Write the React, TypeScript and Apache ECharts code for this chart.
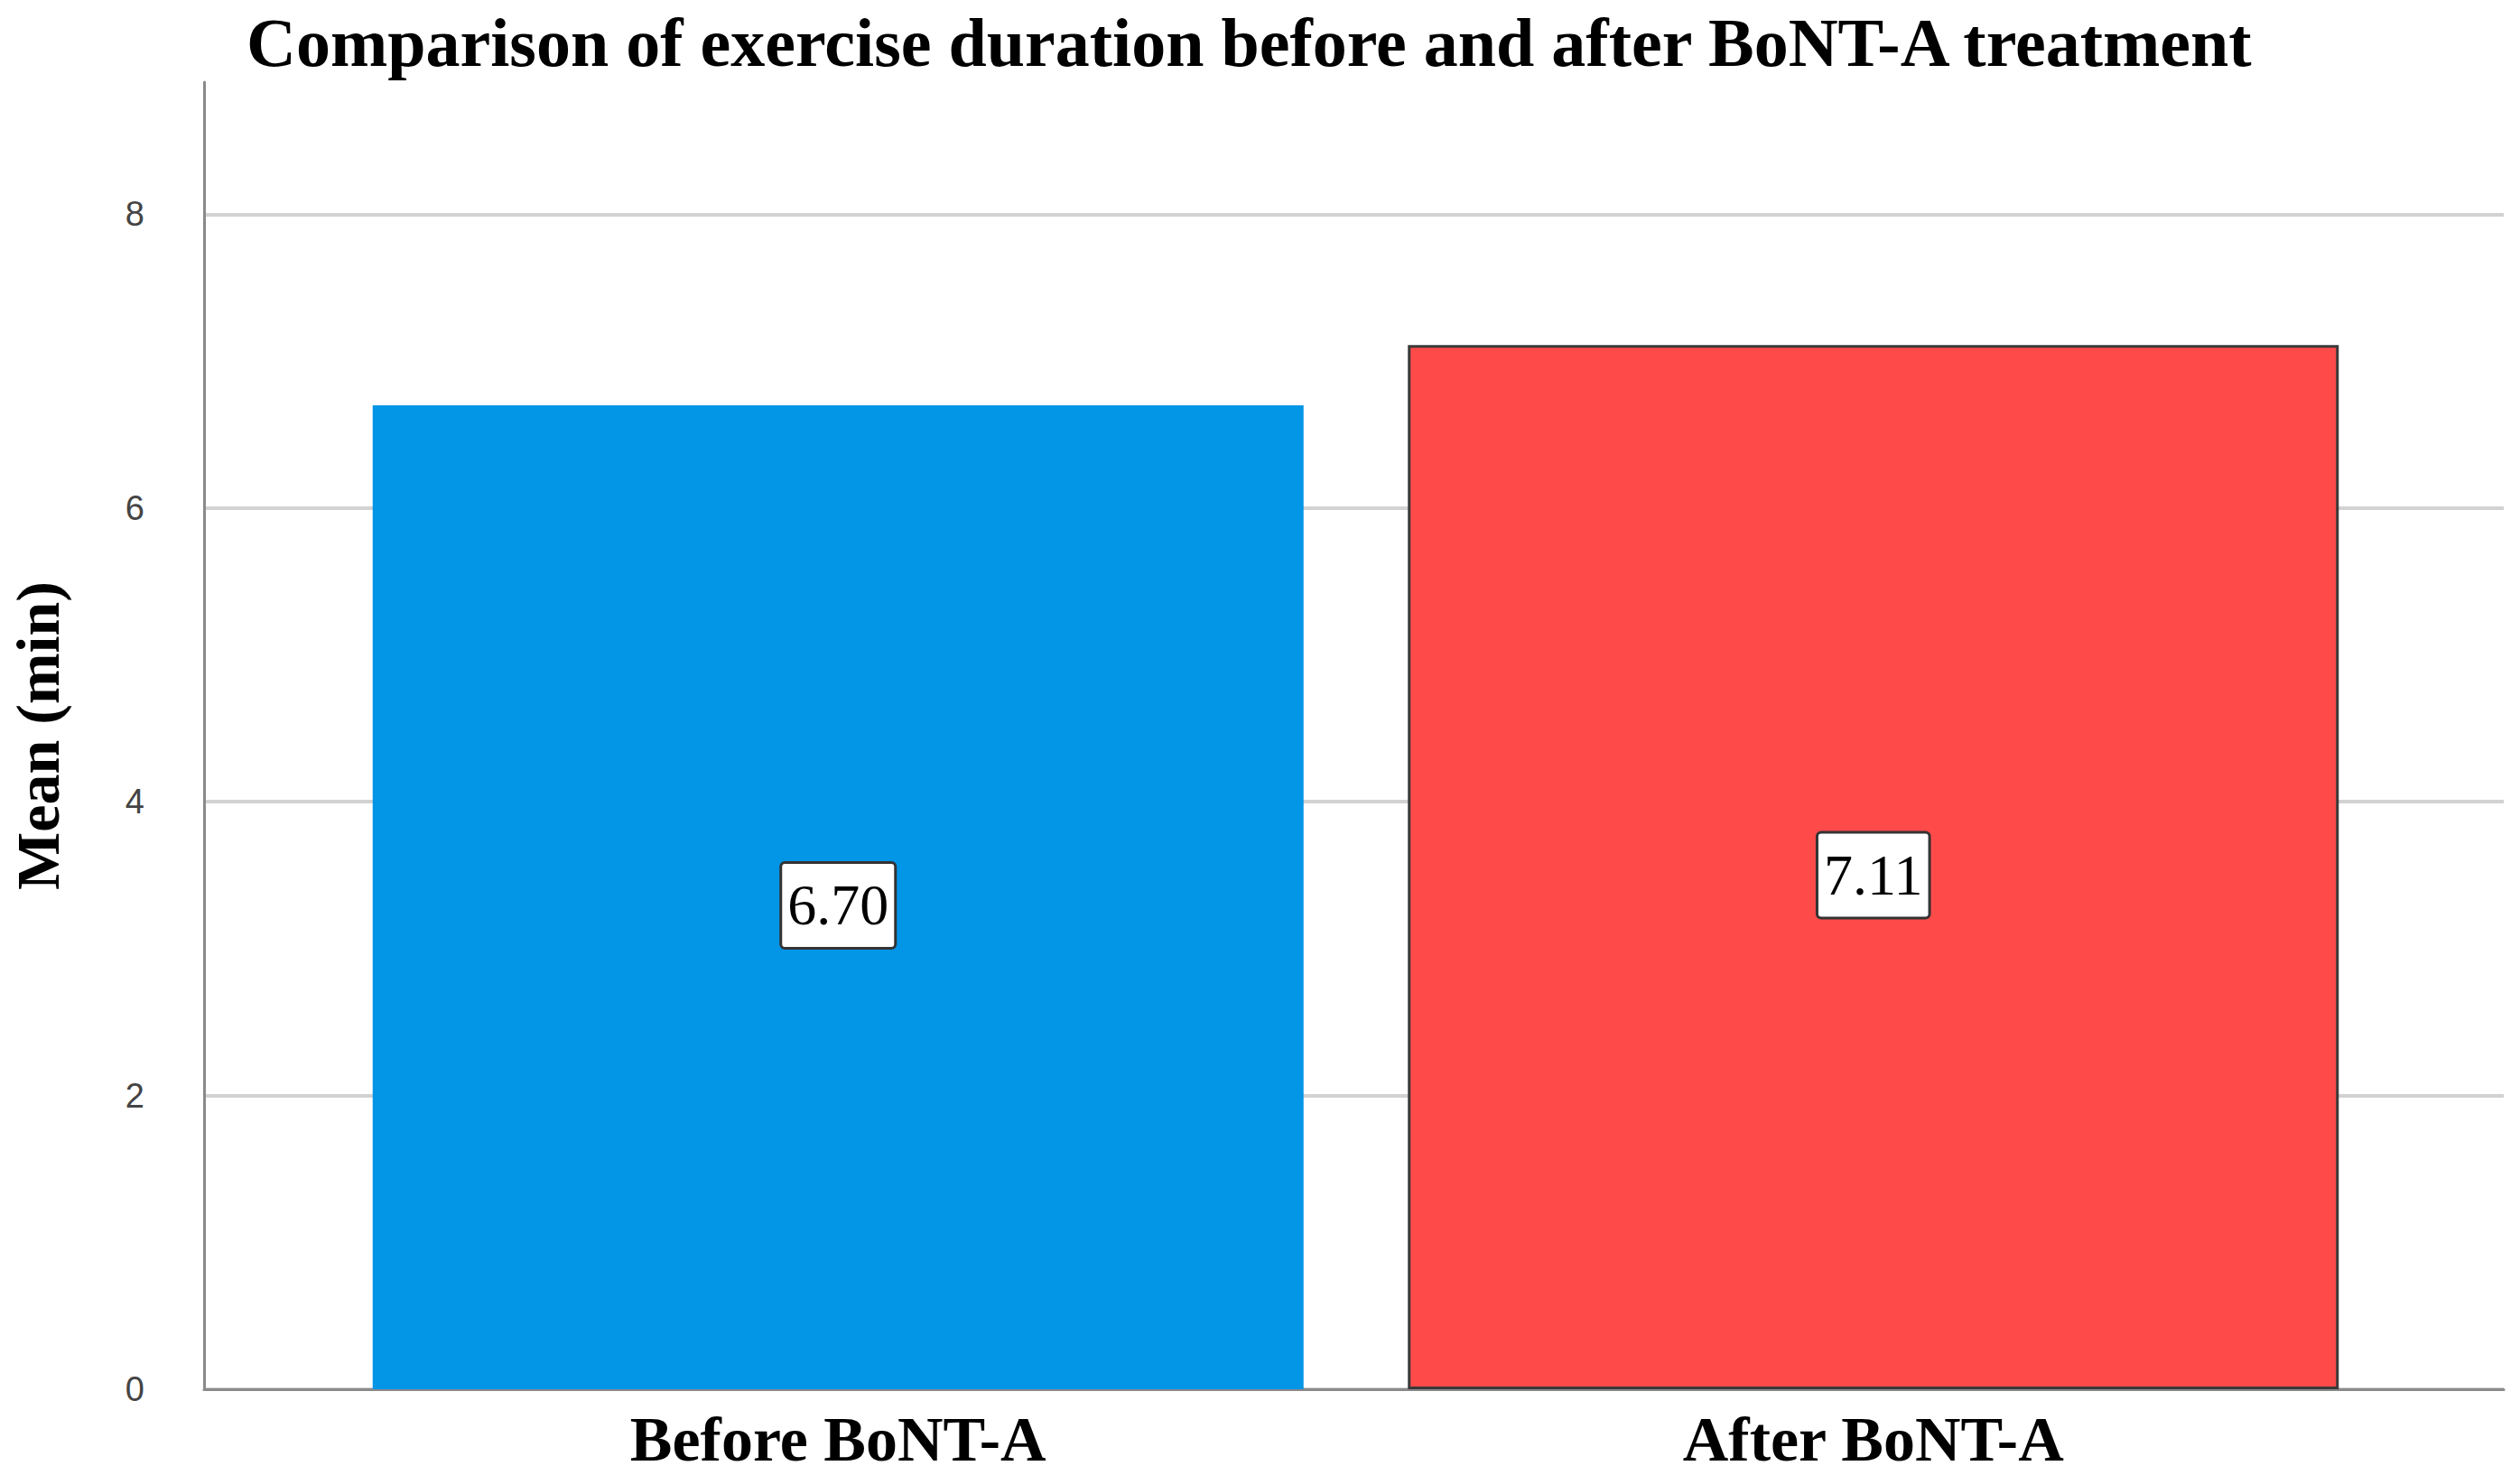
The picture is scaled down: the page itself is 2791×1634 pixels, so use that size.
import { useEffect, useRef } from 'react';
import * as echarts from 'echarts';

const categories = ['Before BoNT-A', 'After BoNT-A'];
const means = [6.70, 7.11];
const barColors = ['#0395E6', '#FF4A4A'];
const yTicks = [0, 2, 4, 6, 8];
const yMax = 8.9;

const serif = '"Liberation Serif", "DejaVu Serif", serif';

export default function App() {
  const chartRef = useRef<HTMLDivElement>(null);

  useEffect(() => {
    if (!chartRef.current) return;
    const chart = echarts.init(chartRef.current, undefined, { renderer: 'svg' });

    const option: echarts.EChartsOption = {
      animation: false,
      backgroundColor: '#ffffff',
      title: {
        text: 'Comparison of exercise duration before and after BoNT-A treatment',
        left: 268,
        top: 4,
        textStyle: { fontFamily: serif, fontWeight: 'bold', fontSize: 76, color: '#000' },
      },
      grid: [
        // frame: axis lines and grid lines, full width
        { left: 226, right: 18, top: 91, bottom: 95 },
        // bars: narrower so the two bands centre on the bars
        { left: 355, right: 143, top: 91, bottom: 95 },
      ],
      xAxis: [
        {
          type: 'category',
          gridIndex: 0,
          data: categories,
          axisLine: { lineStyle: { color: '#8a8a8a', width: 3 } },
          axisTick: { show: false },
          axisLabel: { show: false },
        },
        {
          type: 'category',
          gridIndex: 1,
          data: categories,
          axisLine: { show: false },
          axisTick: { show: false },
          axisLabel: {
            margin: 20,
            fontFamily: serif,
            fontWeight: 'bold',
            fontSize: 70,
            color: '#000',
          },
        },
      ],
      yAxis: [
        {
          type: 'value',
          gridIndex: 0,
          min: 0,
          max: yMax,
          interval: 2,
          name: 'Mean (min)',
          nameLocation: 'middle',
          nameGap: 150,
          nameTextStyle: { fontFamily: serif, fontWeight: 'bold', fontSize: 68, color: '#000' },
          axisLine: { show: true, lineStyle: { color: '#8a8a8a', width: 3 } },
          axisTick: { show: false },
          axisLabel: {
            margin: 66,
            fontFamily: 'Arial, "Liberation Sans", sans-serif',
            fontSize: 38,
            color: '#444',
            formatter: (v: number) => (yTicks.includes(v) ? String(v) : ''),
          },
          splitLine: {
            show: true,
            lineStyle: {
              color: ['#d2d2d2', '#d2d2d2', '#d2d2d2', '#d2d2d2', '#d2d2d2', 'rgba(0,0,0,0)'],
              width: 4,
            },
          },
        },
        {
          type: 'value',
          gridIndex: 1,
          min: 0,
          max: yMax,
          interval: 2,
          show: false,
          splitLine: { show: false },
        },
      ],
      series: [
        {
          type: 'bar',
          xAxisIndex: 1,
          yAxisIndex: 1,
          barWidth: 1031,
          z: 3,
          data: means.map((v, i) => ({
            value: v,
            itemStyle: {
              color: barColors[i],
              borderColor: i === 1 ? '#3a3a3a' : barColors[i],
              borderWidth: i === 1 ? 3 : 0,
            },
          })),
          label: {
            show: true,
            position: 'inside',
            offset: [0, 9],
            formatter: (p: any) => Number(p.value).toFixed(2),
            fontFamily: serif,
            fontSize: 64,
            color: '#000',
            backgroundColor: '#ffffff',
            borderColor: '#333',
            borderWidth: 3,
            borderRadius: 3,
            padding: [16, 6, 12, 6],
          },
        },
      ],
    };

    chart.setOption(option);
    return () => chart.dispose();
  }, []);

  return (
    <div
      ref={chartRef}
      style={{ position: 'fixed', left: 0, top: 0, width: 2791, height: 1634 }}
    />
  );
}
